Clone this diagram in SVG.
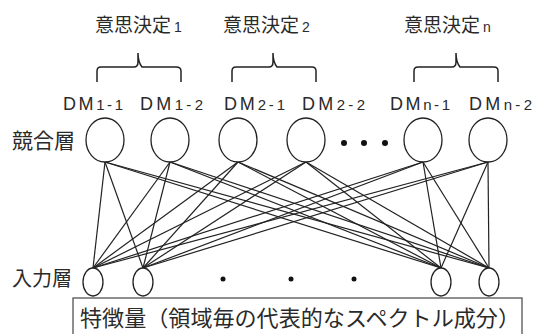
<svg xmlns="http://www.w3.org/2000/svg" width="534" height="334" viewBox="0 0 534 334">
<style>
.jp{font-family:"Noto Sans CJK JP","Noto Sans",sans-serif;fill:#2a2a2a}
.t{font-size:19px}
.s{font-size:14px;font-family:"Liberation Sans",sans-serif}
.dm{font-family:"Liberation Sans",sans-serif;font-size:18px;fill:#2a2a2a}
.dm tspan.n{font-size:15px}
.node{fill:#fff;stroke:#222;stroke-width:1.3}
.brace{fill:none;stroke:#222;stroke-width:1.5}
.link{stroke:#222;stroke-width:1.2}
.dot{fill:#111}
</style>
<rect width="534" height="334" fill="#fff"/>
<g id="titles">
<text class="jp t" x="95" y="32">意思決定<tspan class="s" dx="3">1</tspan></text>
<text class="jp t" x="223" y="32">意思決定<tspan class="s" dx="3">2</tspan></text>
<text class="jp t" x="404" y="32">意思決定<tspan class="s" dx="3">n</tspan></text>
</g>
<g id="braces">
<path class="brace" d="M97,82 V71 Q97,67 101,67 H134 Q138,67 138,62 V53 Q138,62 142,67 H176 Q181,67 181,71 V82"/>
<path class="brace" d="M232,82 V71 Q232,67 236,67 H269 Q273,67 273,62 V53 Q273,62 277,67 H312 Q316,67 316,71 V82"/>
<path class="brace" d="M414,82 V71 Q414,67 418,67 H452 Q456,67 456,62 V53 Q456,62 460,67 H494 Q498,67 498,71 V82"/>
</g>
<g id="labels">
<text class="dm" x="63" y="110" textLength="60" lengthAdjust="spacing">DM<tspan class="n">1-1</tspan></text>
<text class="dm" x="140" y="110" textLength="63" lengthAdjust="spacing">DM<tspan class="n">1-2</tspan></text>
<text class="dm" x="224" y="110" textLength="61" lengthAdjust="spacing">DM<tspan class="n">2-1</tspan></text>
<text class="dm" x="302" y="110" textLength="63" lengthAdjust="spacing">DM<tspan class="n">2-2</tspan></text>
<text class="dm" x="390" y="110" textLength="60" lengthAdjust="spacing">DM<tspan class="n">n-1</tspan></text>
<text class="dm" x="469" y="110" textLength="63" lengthAdjust="spacing">DM<tspan class="n">n-2</tspan></text>
<text class="jp" x="12" y="148" font-size="21">競合層</text>
<text class="jp" x="12" y="286" font-size="20">入力層</text>
</g>
<g id="connectors">
<line class="link" x1="93" y1="268" x2="105" y2="162"/>
<line class="link" x1="93" y1="268" x2="170" y2="162"/>
<line class="link" x1="93" y1="268" x2="238" y2="162"/>
<line class="link" x1="93" y1="268" x2="306" y2="162"/>
<line class="link" x1="93" y1="268" x2="423" y2="162"/>
<line class="link" x1="93" y1="268" x2="488" y2="162"/>
<line class="link" x1="143" y1="268" x2="105" y2="162"/>
<line class="link" x1="143" y1="268" x2="170" y2="162"/>
<line class="link" x1="143" y1="268" x2="238" y2="162"/>
<line class="link" x1="143" y1="268" x2="306" y2="162"/>
<line class="link" x1="143" y1="268" x2="423" y2="162"/>
<line class="link" x1="143" y1="268" x2="488" y2="162"/>
<line class="link" x1="441" y1="268" x2="105" y2="162"/>
<line class="link" x1="441" y1="268" x2="170" y2="162"/>
<line class="link" x1="441" y1="268" x2="238" y2="162"/>
<line class="link" x1="441" y1="268" x2="306" y2="162"/>
<line class="link" x1="441" y1="268" x2="423" y2="162"/>
<line class="link" x1="441" y1="268" x2="488" y2="162"/>
<line class="link" x1="489" y1="268" x2="105" y2="162"/>
<line class="link" x1="489" y1="268" x2="170" y2="162"/>
<line class="link" x1="489" y1="268" x2="238" y2="162"/>
<line class="link" x1="489" y1="268" x2="306" y2="162"/>
<line class="link" x1="489" y1="268" x2="423" y2="162"/>
<line class="link" x1="489" y1="268" x2="488" y2="162"/>
</g>
<g id="dm1-1"><ellipse class="node" cx="105" cy="140" rx="19" ry="22"/></g>
<g id="dm1-2"><ellipse class="node" cx="170" cy="140" rx="19" ry="22"/></g>
<g id="dm2-1"><ellipse class="node" cx="238" cy="140" rx="19" ry="22"/></g>
<g id="dm2-2"><ellipse class="node" cx="306" cy="140" rx="19" ry="22"/></g>
<g id="dmn-1"><ellipse class="node" cx="423" cy="140" rx="19" ry="22"/></g>
<g id="dmn-2"><ellipse class="node" cx="488" cy="140" rx="19" ry="22"/></g>
<g id="top-dots">
<circle class="dot" cx="344" cy="143" r="3"/>
<circle class="dot" cx="364" cy="143" r="3"/>
<circle class="dot" cx="385" cy="143" r="3"/>
</g>
<g id="in1"><ellipse class="node" cx="93" cy="282" rx="10" ry="14"/></g>
<g id="in2"><ellipse class="node" cx="143" cy="282" rx="10" ry="14"/></g>
<g id="in3"><ellipse class="node" cx="441" cy="282" rx="10" ry="14"/></g>
<g id="in4"><ellipse class="node" cx="489" cy="282" rx="10" ry="14"/></g>
<g id="bottom-dots">
<circle class="dot" cx="223" cy="279" r="2.5"/>
<circle class="dot" cx="291" cy="279" r="2.5"/>
<circle class="dot" cx="354" cy="279" r="2.5"/>
</g>
<g id="feature-box">
<rect x="73" y="298" width="449" height="40" fill="#fff" stroke="#444" stroke-width="1.2"/>
<text class="jp" x="80" y="326" font-size="21.5" textLength="440" lengthAdjust="spacingAndGlyphs">特徴量（領域毎の代表的なスペクトル成分）</text>
</g>
</svg>
